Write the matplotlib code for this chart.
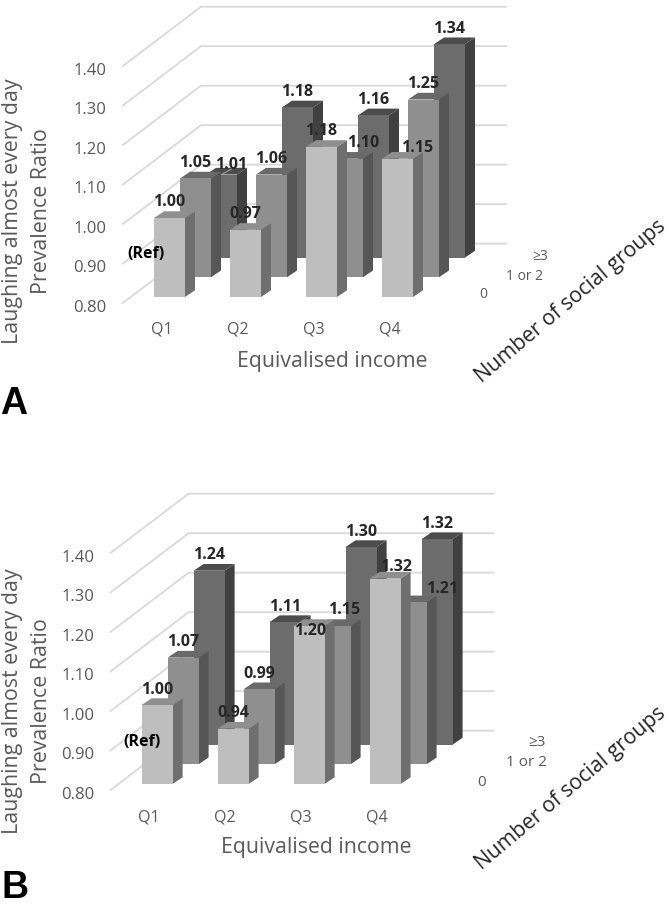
# -*- coding: utf-8 -*-
import matplotlib
matplotlib.use("Agg")
import matplotlib.pyplot as plt

plt.rcParams['font.family'] = ['Open Sans', 'DejaVu Sans']

quartiles = ['Q1', 'Q2', 'Q3', 'Q4']
groups = ['0', '1 or 2', '≥3']
ticks = [0.80, 0.90, 1.00, 1.10, 1.20, 1.30, 1.40]

a_none = [1.00, 0.97, 1.18, 1.15]
a_some = [1.05, 1.06, 1.10, 1.25]
a_many = [1.01, 1.18, 1.16, 1.34]

b_none = [1.00, 0.94, 1.20, 1.32]
b_some = [1.07, 0.99, 1.15, 1.21]
b_many = [1.24, 1.11, 1.30, 1.32]

# pixel scale of the oblique drawing
FIG_W, FIG_H = 669, 909
PX_X = 76.0     # px per income category
PX_Y = 395.0    # px per unit of ratio
BAR_W = 31 / PX_X
STEP_X = 26 / PX_X   # shift of one series in depth
STEP_Y = 0.05
SIDE_X = 10 / PX_X
SIDE_Y = 6.7 / PX_Y

GREY = '#595959'
DARK = '#262626'
FACES = [('#BEBEBE', '#8F8F8F', '#6F6F6F'),
         ('#8F8F8F', '#696969', '#565656'),
         ('#6C6C6C', '#4C4C4C', '#404040')]

# hand moved data labels (series, category): (dx px, dy px)
nudge_a = {(2, 0): (10, 6), (1, 2): (16, 0), (0, 3): (20, 5)}
nudge_b = {(0, 2): (1, 20), (1, 2): (9, 0), (0, 3): (11, 4), (1, 3): (31, 2)}


def draw_bar(ax, i, k, value, faces):
    x0 = i - BAR_W / 2 + k * STEP_X
    x1 = x0 + BAR_W
    y0 = 0.80 + k * STEP_Y
    y1 = value + k * STEP_Y
    front, top, side = faces
    ax.fill([x1, x1 + SIDE_X, x1 + SIDE_X, x1],
            [y0, y0 + SIDE_Y, y1 + SIDE_Y, y1], color=side, lw=0, zorder=3)
    ax.fill([x0, x1, x1 + SIDE_X, x0 + SIDE_X],
            [y1, y1, y1 + SIDE_Y, y1 + SIDE_Y], color=top, lw=0, zorder=3)
    ax.fill([x0, x1, x1, x0], [y0, y0, y1, y1], color=front, lw=0, zorder=3)


def draw_panel(left_px, top_px, series, nudge, leaders, letter, letter_xy, group_xy, group_size,
               ref_xy, ylab_y, num_y, income_xy):
    height = 420
    ax = fig.add_axes([left_px / FIG_W, 1 - (top_px + height) / FIG_H, 1, height / FIG_H])
    ax.set_xlim(-169.5 / PX_X, (FIG_W - 169.5) / PX_X)
    ax.set_ylim(0.80 - (height - 297) / PX_Y, 0.80 + 297 / PX_Y)
    ax.axis('off')

    def px(x, y):
        # figure pixels to this panel's data scale
        return (x - left_px - 169.5) / PX_X, 0.80 + (297 + top_px - y) / PX_Y

    x_front = -46.5 / PX_X
    x_back = x_front + 3 * STEP_X
    x_end = 336.5 / PX_X
    for v in ticks:
        y = v - 0.015
        ax.plot([x_front, x_back, x_end], [y, y + 3 * STEP_Y, y + 3 * STEP_Y],
                color='#D9D9D9', lw=1.3, zorder=1)
        ax.text(x_front - 33 / PX_X, y - 0.012, '%.2f' % v, color=GREY, fontsize=12,
                ha='center', va='center', zorder=5)

    # back series first so the front ones cover them
    for k in [2, 1, 0]:
        for i, value in enumerate(series[k]):
            draw_bar(ax, i, k, value, FACES[k])

    for k in [2, 1, 0]:
        for i, value in enumerate(series[k]):
            dx, dy = nudge.get((k, i), (0, 0))
            x = i + k * STEP_X
            y = value + k * STEP_Y
            ax.text(x + dx / PX_X, y + (15.5 - dy) / PX_Y, '%.2f' % value, color=DARK,
                    fontsize=11.5, fontweight='bold', ha='center', va='center', zorder=6)
            if (k, i) in leaders:
                ax.plot([x, x + dx / PX_X], [y, y + (17.5 - dy - 6) / PX_Y],
                        color='#A6A6A6', lw=0.7, zorder=5)

    for i, q in enumerate(quartiles):
        ax.text(i - 8 / PX_X, 0.80 - 33 / PX_Y, q, color=GREY, fontsize=11.5,
                ha='center', va='center', zorder=5)

    ax.text(*px(13, ylab_y), 'Laughing almost every day', color=GREY, fontsize=15.4,
            rotation=90, ha='center', va='center')
    ax.text(*px(42, ylab_y), 'Prevalence Ratio', color=GREY, fontsize=15.4,
            rotation=90, ha='center', va='center')
    ax.text(*px(*income_xy), 'Equivalised income', color=GREY, fontsize=15.3,
            ha='center', va='center')
    ax.text(*px(*ref_xy), '(Ref)', color='black', fontsize=11.5, fontweight='bold',
            ha='center', va='center', zorder=6)
    for name, xy in zip(groups, group_xy):
        ax.text(*px(*xy), name, color=GREY, fontsize=group_size, ha='center', va='center')
    ax.text(*px(571, num_y), 'Number of social groups', color=DARK, fontsize=15.2,
            rotation=40, rotation_mode='anchor', ha='center', va='center')
    ax.text(*px(*letter_xy), letter, color='black', fontsize=27, fontweight='bold',
            family='Liberation Sans', ha='center', va='center')


fig = plt.figure(figsize=(FIG_W / 100, FIG_H / 100), dpi=100)
draw_panel(0, 0, [a_none, a_some, a_many], nudge_a, [(2, 0)], 'A', (14, 404),
           [(483, 295), (525, 276), (540, 256)], 10, (146, 254), 211, 301, (332.5, 362))
draw_panel(-12.4, 487, [b_none, b_some, b_many], nudge_b, [], 'B', (15, 888),
           [(482, 782), (526, 763), (537, 743)], 11, (142, 742), 701, 788, (316.5, 847))
fig.savefig('out.png', dpi=100)
